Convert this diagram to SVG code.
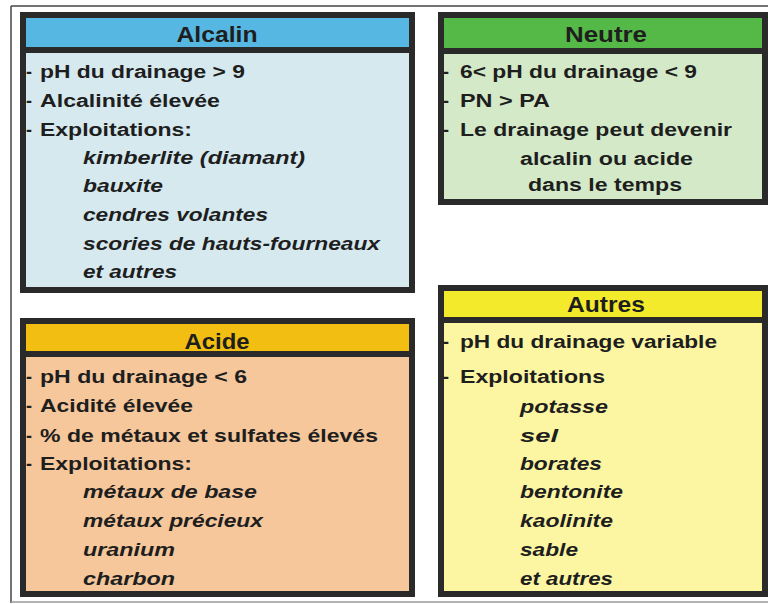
<svg xmlns="http://www.w3.org/2000/svg" width="768" height="604" viewBox="0 0 768 604">
<style>
.frame{fill:none;stroke:#444;stroke-width:1.5}
.box{stroke:#2a2a2a;stroke-width:6}
.sep{stroke:#2a2a2a;stroke-width:6}
text{font-family:"Liberation Sans",Arial,sans-serif;font-weight:bold;fill:#1e1e1e}
.h{font-size:22px}
.t{font-size:18px}
.i{font-size:18px;font-style:italic}
</style>
<rect x="0" y="0" width="768" height="604" fill="#ffffff"/>
<g id="frame">
<line class="frame" x1="11" y1="6" x2="768" y2="6"/>
<line class="frame" x1="11" y1="6" x2="11" y2="603"/>
<line x1="11" y1="602" x2="768" y2="602" stroke="#9a9a9a" stroke-width="1.5"/>
</g>
<g id="connectors"/>
<g id="alcalin">
<rect x="23" y="15" width="389" height="275" fill="#d6e9ef" class="box"/>
<rect x="26" y="18" width="383" height="32" fill="#56b8e2"/>
<line class="sep" x1="23" y1="50" x2="412" y2="50"/>
<text class="h" x="217" y="42" text-anchor="middle" textLength="81" lengthAdjust="spacingAndGlyphs">Alcalin</text>
<text class="t" x="26" y="78">-</text><text class="t" x="40" y="78" textLength="205" lengthAdjust="spacingAndGlyphs">pH du drainage &gt; 9</text>
<text class="t" x="26" y="107">-</text><text class="t" x="40" y="107" textLength="180" lengthAdjust="spacingAndGlyphs">Alcalinité élevée</text>
<text class="t" x="26" y="136">-</text><text class="t" x="40" y="136" textLength="152" lengthAdjust="spacingAndGlyphs">Exploitations:</text>
<text class="i" x="83" y="164" textLength="222" lengthAdjust="spacingAndGlyphs">kimberlite (diamant)</text>
<text class="i" x="83" y="192" textLength="80" lengthAdjust="spacingAndGlyphs">bauxite</text>
<text class="i" x="83" y="221" textLength="185" lengthAdjust="spacingAndGlyphs">cendres volantes</text>
<text class="i" x="83" y="250" textLength="297" lengthAdjust="spacingAndGlyphs">scories de hauts-fourneaux</text>
<text class="i" x="83" y="278" textLength="94" lengthAdjust="spacingAndGlyphs">et autres</text>
</g>
<g id="neutre">
<rect x="441" y="15" width="324" height="187" fill="#d4e9c8" class="box"/>
<rect x="444" y="18" width="318" height="33" fill="#55b947"/>
<line class="sep" x1="441" y1="51" x2="765" y2="51"/>
<text class="h" x="606" y="42" text-anchor="middle" textLength="82" lengthAdjust="spacingAndGlyphs">Neutre</text>
<text class="t" x="443" y="78">-</text><text class="t" x="460" y="78" textLength="237" lengthAdjust="spacingAndGlyphs">6&lt; pH du drainage &lt; 9</text>
<text class="t" x="443" y="107">-</text><text class="t" x="460" y="107" textLength="90" lengthAdjust="spacingAndGlyphs">PN &gt; PA</text>
<text class="t" x="443" y="136">-</text><text class="t" x="460" y="136" textLength="272" lengthAdjust="spacingAndGlyphs">Le drainage peut devenir</text>
<text class="t" x="520" y="165" textLength="173" lengthAdjust="spacingAndGlyphs">alcalin ou acide</text>
<text class="t" x="528" y="191" textLength="154" lengthAdjust="spacingAndGlyphs">dans le temps</text>
</g>
<g id="acide">
<rect x="23" y="321" width="389" height="273" fill="#f5c79b" class="box"/>
<rect x="26" y="324" width="383" height="30" fill="#f3be12"/>
<line class="sep" x1="23" y1="354" x2="412" y2="354"/>
<text class="h" x="217" y="349" text-anchor="middle" textLength="65" lengthAdjust="spacingAndGlyphs">Acide</text>
<text class="t" x="26" y="383">-</text><text class="t" x="40" y="383" textLength="207" lengthAdjust="spacingAndGlyphs">pH du drainage &lt; 6</text>
<text class="t" x="26" y="412">-</text><text class="t" x="40" y="412" textLength="153" lengthAdjust="spacingAndGlyphs">Acidité élevée</text>
<text class="t" x="26" y="442">-</text><text class="t" x="40" y="442" textLength="338" lengthAdjust="spacingAndGlyphs">% de métaux et sulfates élevés</text>
<text class="t" x="26" y="470">-</text><text class="t" x="40" y="470" textLength="152" lengthAdjust="spacingAndGlyphs">Exploitations:</text>
<text class="i" x="83" y="498" textLength="174" lengthAdjust="spacingAndGlyphs">métaux de base</text>
<text class="i" x="83" y="527" textLength="180" lengthAdjust="spacingAndGlyphs">métaux précieux</text>
<text class="i" x="83" y="556" textLength="92" lengthAdjust="spacingAndGlyphs">uranium</text>
<text class="i" x="83" y="585" textLength="92" lengthAdjust="spacingAndGlyphs">charbon</text>
</g>
<g id="autres">
<rect x="441" y="288" width="324" height="306" fill="#fcf6a2" class="box"/>
<rect x="444" y="291" width="318" height="29" fill="#f3ea2c"/>
<line class="sep" x1="441" y1="320" x2="765" y2="320"/>
<text class="h" x="606" y="312" text-anchor="middle" textLength="78" lengthAdjust="spacingAndGlyphs">Autres</text>
<text class="t" x="443" y="348">-</text><text class="t" x="460" y="348" textLength="257" lengthAdjust="spacingAndGlyphs">pH du drainage variable</text>
<text class="t" x="443" y="383">-</text><text class="t" x="460" y="383" textLength="145" lengthAdjust="spacingAndGlyphs">Exploitations</text>
<text class="i" x="520" y="413" textLength="88" lengthAdjust="spacingAndGlyphs">potasse</text>
<text class="i" x="520" y="442" textLength="38" lengthAdjust="spacingAndGlyphs">sel</text>
<text class="i" x="520" y="470" textLength="82" lengthAdjust="spacingAndGlyphs">borates</text>
<text class="i" x="520" y="498" textLength="103" lengthAdjust="spacingAndGlyphs">bentonite</text>
<text class="i" x="520" y="527" textLength="93" lengthAdjust="spacingAndGlyphs">kaolinite</text>
<text class="i" x="520" y="556" textLength="58" lengthAdjust="spacingAndGlyphs">sable</text>
<text class="i" x="520" y="585" textLength="93" lengthAdjust="spacingAndGlyphs">et autres</text>
</g>
</svg>
